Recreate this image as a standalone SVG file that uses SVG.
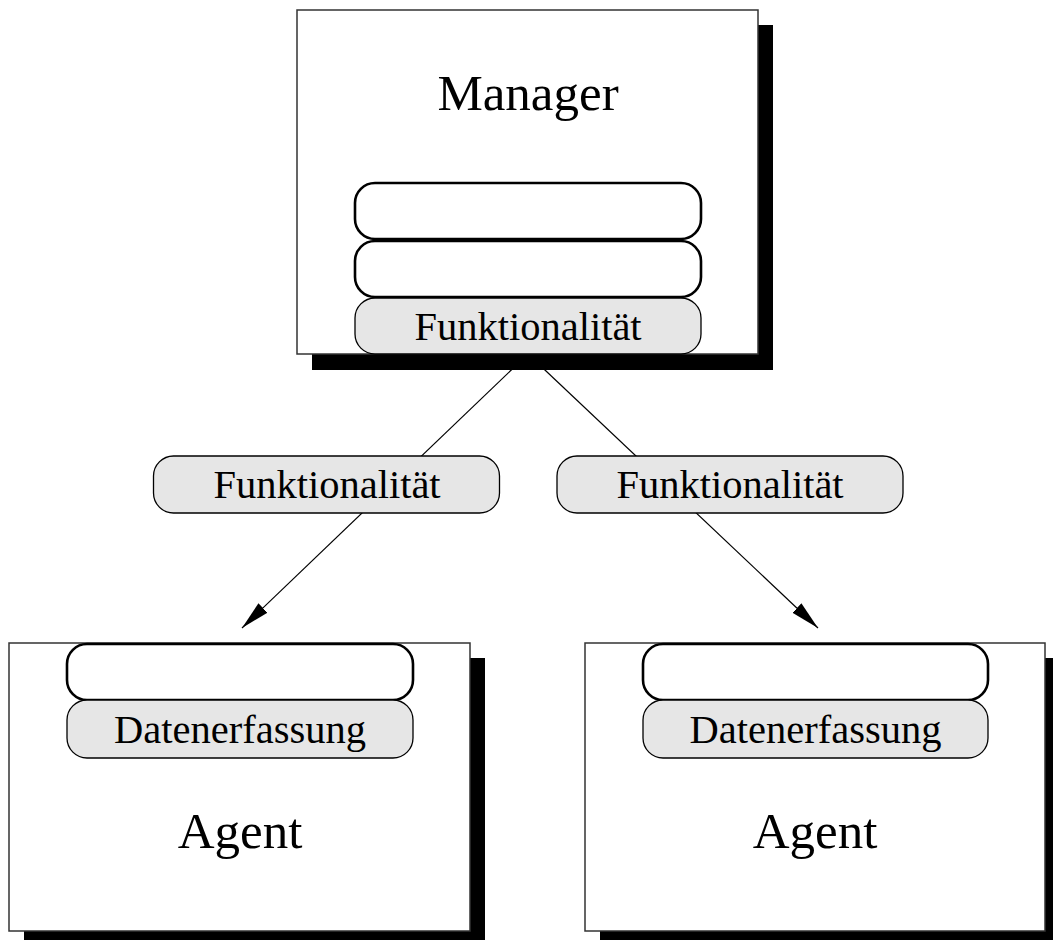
<svg xmlns="http://www.w3.org/2000/svg" width="1053" height="940" viewBox="0 0 1053 940">
<style>
.shadow{fill:#000}
.box{fill:#fff;stroke:#333;stroke-width:1.5}
.slot{fill:#fff;stroke:#000;stroke-width:2.6}
.func{fill:#e6e6e6;stroke:#000;stroke-width:1.3}
.conn{stroke:#000;stroke-width:1.2;fill:none}
text{font-family:"Liberation Serif","Times New Roman",serif;fill:#000;text-anchor:middle}
.big{font-size:51px}
.lbl{font-size:40.5px}
</style>
<defs>
<marker id="arr" markerUnits="userSpaceOnUse" markerWidth="30" markerHeight="16" viewBox="0 0 30 16" refX="29" refY="8" orient="auto">
<path d="M0,1.5 L29,8 L0,14.5 Z" fill="#000"/>
</marker>
</defs>
<rect width="1053" height="940" fill="#fff"/>
<g id="connectors">
<line class="conn" x1="528" y1="354" x2="242" y2="628" marker-end="url(#arr)"/>
<line class="conn" x1="528" y1="354" x2="818" y2="628" marker-end="url(#arr)"/>
</g>
<g id="manager">
<rect class="shadow" x="312" y="25" width="461" height="345"/>
<rect class="box" x="297" y="10" width="461" height="344"/>
<text class="big" x="528" y="110">Manager</text>
<rect class="slot" x="355" y="183" width="346" height="56" rx="20"/>
<rect class="slot" x="355" y="241" width="346" height="56" rx="20"/>
<rect class="func" x="355" y="298" width="346" height="56" rx="20"/>
<text class="lbl" x="528" y="340">Funktionalität</text>
</g>
<g id="label-left">
<rect class="func" x="153.5" y="456" width="346" height="57" rx="20"/>
<text class="lbl" x="327" y="498">Funktionalität</text>
</g>
<g id="label-right">
<rect class="func" x="557" y="456" width="346" height="57" rx="20"/>
<text class="lbl" x="730" y="498">Funktionalität</text>
</g>
<g id="agent-left">
<rect class="shadow" x="24" y="658" width="461" height="290"/>
<rect class="box" x="9" y="643" width="461" height="288"/>
<rect class="slot" x="67" y="644" width="346" height="56" rx="20"/>
<rect class="func" x="67" y="700" width="346" height="58" rx="20"/>
<text class="lbl" x="240" y="743">Datenerfassung</text>
<text class="big" x="240" y="848">Agent</text>
</g>
<g id="agent-right">
<rect class="shadow" x="600" y="658" width="461" height="290"/>
<rect class="box" x="585" y="643" width="460" height="288"/>
<rect class="slot" x="643" y="644" width="345" height="56" rx="20"/>
<rect class="func" x="643" y="700" width="345" height="58" rx="20"/>
<text class="lbl" x="815.5" y="743">Datenerfassung</text>
<text class="big" x="815" y="848">Agent</text>
</g>
</svg>
